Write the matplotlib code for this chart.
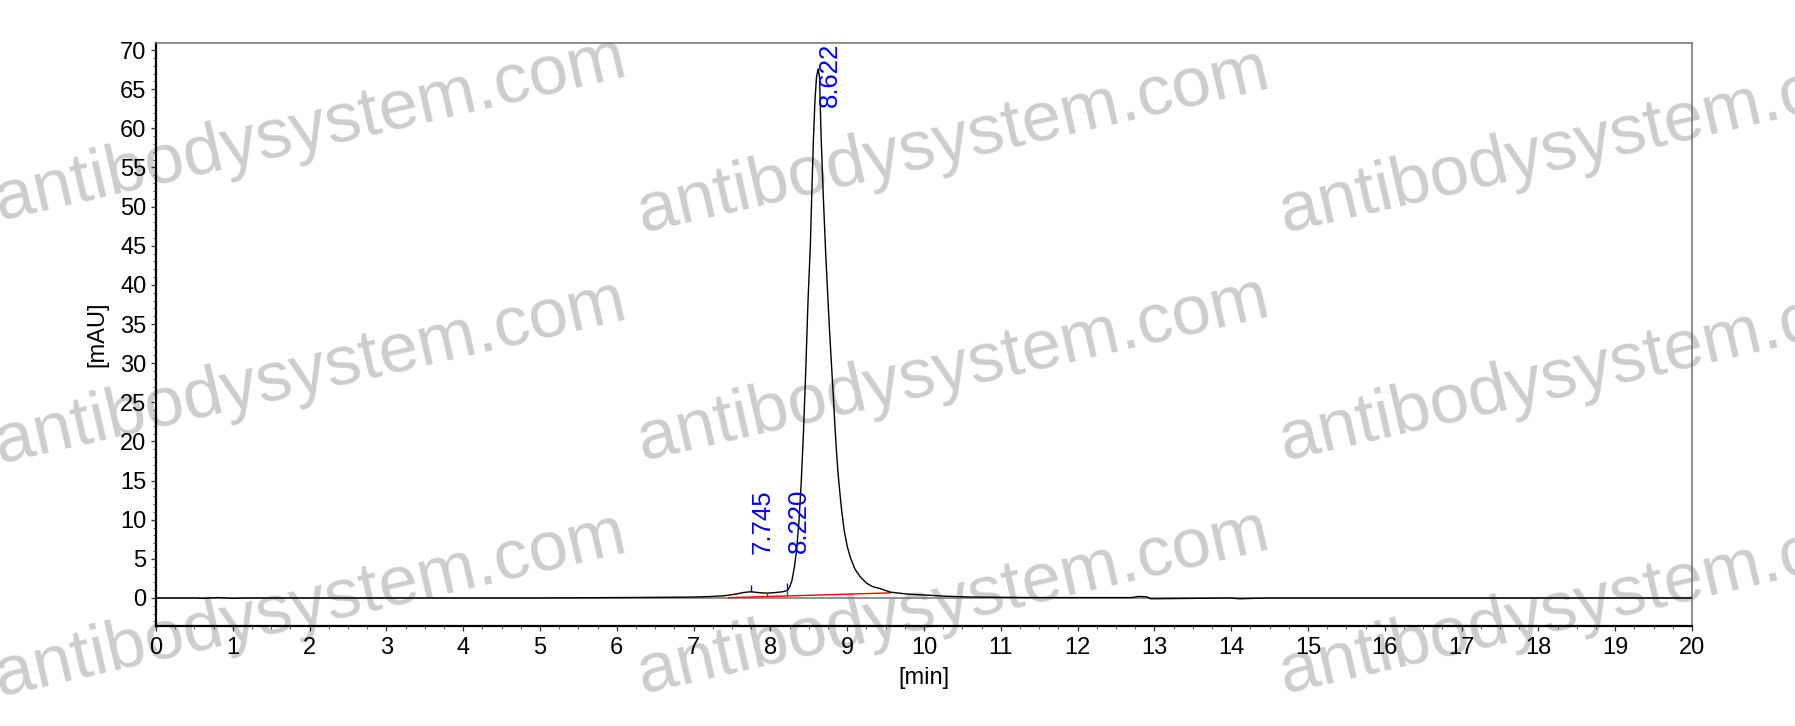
import matplotlib
matplotlib.use("Agg")
import matplotlib.pyplot as plt
from matplotlib.ticker import MultipleLocator

plt.rcParams['font.family'] = ['Liberation Sans', 'DejaVu Sans']

# ---- data ----
time_min = [0.0, 0.5, 0.6, 0.8, 1.0, 1.2, 2.0, 3.0, 4.0, 5.0, 6.0, 6.5, 7.0, 7.2, 7.4,
            7.55, 7.65, 7.745, 7.85, 7.95, 8.05, 8.15, 8.22, 8.25, 8.28, 8.31, 8.34,
            8.37, 8.40, 8.43, 8.46, 8.49, 8.52, 8.54, 8.56, 8.58, 8.60, 8.622, 8.64,
            8.66, 8.69, 8.72, 8.75, 8.77, 8.80, 8.82, 8.84, 8.86, 8.88, 8.91, 8.93,
            8.96, 9.00, 9.04, 9.10, 9.17, 9.25, 9.33, 9.43, 9.56, 9.78, 10.0, 10.3,
            10.6, 11.0, 11.5, 12.0, 12.7, 12.8, 12.9, 12.95, 13.5, 14.0, 14.1, 14.5,
            15.0, 16.0, 17.0, 18.0, 19.0, 20.0]
signal_mau = [0.0, 0.0, -0.05, 0.05, -0.05, 0.0, 0.0, 0.0, 0.0, 0.0, 0.05, 0.08, 0.12, 0.18, 0.28,
              0.5, 0.7, 0.8, 0.68, 0.62, 0.68, 0.78, 0.95, 1.4, 2.2, 3.8, 6.0,
              9.5, 14.5, 21.0, 29.0, 38.0, 45.0, 52.0, 58.5, 63.5, 66.5, 67.6, 66.5,
              59.0, 51.0, 44.0, 38.0, 34.2, 29.0, 25.7, 22.0, 18.8, 16.0, 12.9, 11.0,
              8.7, 6.6, 5.2, 3.7, 2.7, 1.9, 1.45, 1.2, 0.75, 0.5, 0.38, 0.22,
              0.12, 0.08, 0.05, 0.05, 0.05, 0.2, 0.15, -0.1, -0.05, 0.0, -0.1, 0.0,
              0.0, 0.0, 0.0, 0.0, 0.0, 0.0]

baseline_time = [7.46, 9.56]
baseline_mau = [0.04, 0.65]

peak_times = [7.745, 8.220, 8.622]
peak_heights = [0.8, 0.95, 67.6]
peak_labels = ["7.745", "8.220", "8.622"]

x_ticks = list(range(0, 21))
y_ticks = list(range(0, 71, 5))

watermark = "antibodysystem.com"

# ---- figure ----
W, H = 1795, 726
fig = plt.figure(figsize=(W / 100, H / 100), dpi=100)
fig.patch.set_facecolor('white')
ax = fig.add_axes([156 / W, 1 - 626 / H, (1692 - 156) / W, (626 - 43) / H])
ax.patch.set_alpha(0)

ymin, ymax = -3.58, 70.9
ax.set_xlim(0, 20)
ax.set_ylim(ymin, ymax)

ax.axhline(0, color='#7f7f7f', lw=1.2, zorder=1)
ax.plot(baseline_time, baseline_mau, color='#ff0000', lw=1.0, zorder=2)
ax.plot(time_min, signal_mau, color='black', lw=1.0, zorder=3)

# peak start/end markers
ax.vlines([peak_times[0], peak_times[1]], [h + 0.0 for h in peak_heights[:2]],
          [h + 0.9 for h in peak_heights[:2]], color='#0000ff', lw=1.0, zorder=4)
ax.vlines([7.95, 8.22], [0.3, 0.25], [0.75, 0.95], color='#008000', lw=1.0, zorder=4)

for t, h, lab in zip(peak_times, peak_heights, peak_labels):
    if h + 4.8 + 8 > ymax:
        ax.text(t, ymax, lab, rotation=90, ha='left', va='top', color='#0000ff',
                fontsize=18.5, zorder=5, clip_on=False)
    else:
        ax.text(t, h + 4.8, lab, rotation=90, ha='left', va='bottom', color='#0000ff',
                fontsize=18.5, zorder=5)

ax.set_xticks(x_ticks)
ax.set_yticks(y_ticks)
ax.xaxis.set_minor_locator(MultipleLocator(0.25))
ax.yaxis.set_minor_locator(MultipleLocator(1))
ax.tick_params(axis='both', which='major', length=3.5, width=0.9, labelsize=17,
               color='#333333')
ax.tick_params(axis='both', which='minor', length=2, width=0.7, color='#555555')
ax.tick_params(axis='x', which='major', pad=4.5)
ax.tick_params(axis='y', which='major', pad=3.5)

for s in ['left', 'bottom']:
    ax.spines[s].set_color('black')
    ax.spines[s].set_linewidth(1.6)
for s in ['top', 'right']:
    ax.spines[s].set_color('#707070')
    ax.spines[s].set_linewidth(1.1)

ax.set_xlabel('[min]', fontsize=17, labelpad=6)
ax.set_ylabel('[mAU]', fontsize=17, labelpad=8)

# watermarks
wm_cols = [(0, [220, 463, 696]), (643, [232, 460, 693]), (1285, [232, 460, 693])]
for x0, ys in wm_cols:
    for y0 in ys:
        fig.text(x0 / W, 1 - y0 / H, watermark, fontsize=51, color='#cdcdcd',
                 rotation=13, rotation_mode='anchor', ha='left', va='baseline',
                 zorder=-1)

fig.savefig('out.png', dpi=100, facecolor='white')
